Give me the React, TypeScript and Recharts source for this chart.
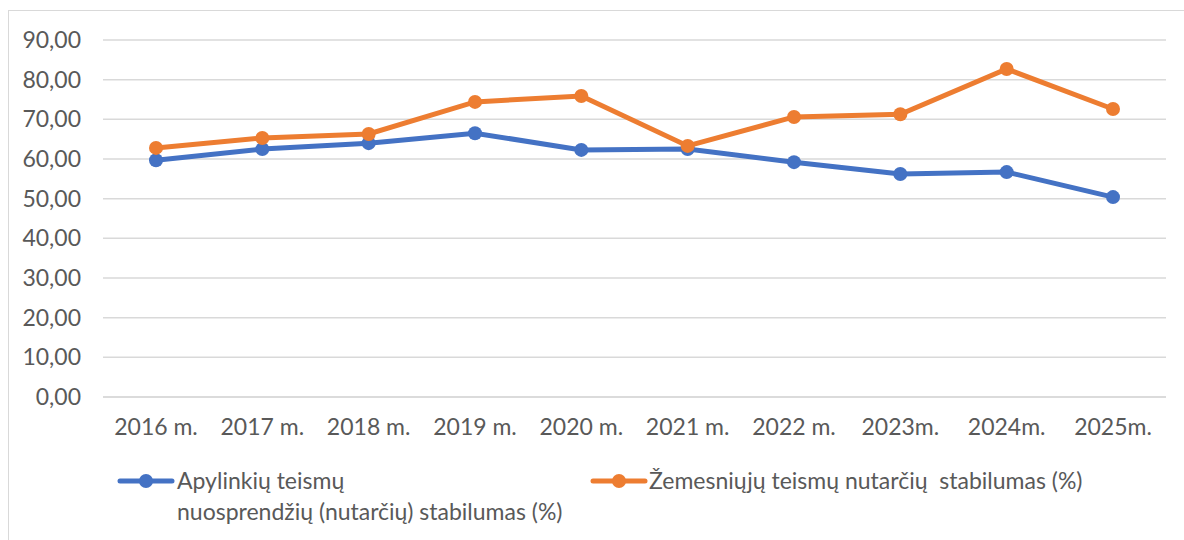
import { CartesianGrid, Line, LineChart, XAxis, YAxis } from "recharts";

const years = [
  "2016 m.",
  "2017 m.",
  "2018 m.",
  "2019 m.",
  "2020 m.",
  "2021 m.",
  "2022 m.",
  "2023m.",
  "2024m.",
  "2025m.",
];
const districtCourts = [59.7, 62.5, 64.0, 66.5, 62.3, 62.5, 59.2, 56.2, 56.7, 50.4];
const lowerCourts = [62.8, 65.3, 66.3, 74.4, 75.9, 63.3, 70.6, 71.3, 82.7, 72.6];
const yTicks = [0, 10, 20, 30, 40, 50, 60, 70, 80, 90];

const BLUE = "#4472C4";
const ORANGE = "#ED7D31";
const TEXT = "#595959";
const FONT = "Lato, 'Open Sans', sans-serif";
const FONT_SIZE = 23;

const data = years.map((year, i) => ({
  year,
  district: districtCourts[i],
  lower: lowerCourts[i],
}));

const fmt = (v: number) => v.toFixed(2).replace(".", ",");

function LegendMarker({ color }: { color: string }) {
  return (
    <svg width={58} height={16} style={{ display: "block" }}>
      <line x1={3} y1={8} x2={55} y2={8} stroke={color} strokeWidth={5} strokeLinecap="round" />
      <circle cx={29} cy={8} r={7} fill={color} />
    </svg>
  );
}

// ChartLegend mimics the two-column legend under the plot.
function ChartLegend() {
  const text = {
    color: TEXT,
    fontFamily: FONT,
    fontSize: FONT_SIZE,
    lineHeight: "31px",
  };
  return (
    <div style={{ position: "absolute", left: 0, top: 465, width: 1184, height: 70 }}>
      <div style={{ position: "absolute", left: 117, top: 8 }}>
        <LegendMarker color={BLUE} />
      </div>
      <div style={{ position: "absolute", left: 177, top: 0, ...text }}>
        Apylinkių teismų
        <br />
        nuosprendžių (nutarčių) stabilumas (%)
      </div>
      <div style={{ position: "absolute", left: 590, top: 8 }}>
        <LegendMarker color={ORANGE} />
      </div>
      <div style={{ position: "absolute", left: 649, top: 0, ...text, whiteSpace: "pre" }}>
        Žemesniųjų teismų nutarčių  stabilumas (%)
      </div>
    </div>
  );
}

export default function App() {
  return (
    <div
      style={{
        position: "absolute",
        left: 0,
        top: 0,
        width: 1184,
        height: 540,
        background: "#fff",
        overflow: "hidden",
      }}
    >
      <div
        style={{
          position: "absolute",
          left: 8,
          top: 10,
          right: 0,
          bottom: 0,
          borderTop: "1px solid #d9d9d9",
          borderLeft: "1px solid #d9d9d9",
        }}
      />
      <LineChart
        width={1184}
        height={540}
        data={data}
        margin={{ top: 40, right: 18, bottom: 113, left: 0 }}
        style={{ position: "absolute", left: 0, top: 0 }}
      >
        <CartesianGrid vertical={false} stroke="#d9d9d9" strokeWidth={1.5} />
        <XAxis
          dataKey="year"
          height={30}
          padding={{ left: 53, right: 53 }}
          axisLine={{ stroke: "#d9d9d9", strokeWidth: 1.5 }}
          tickLine={false}
          tickSize={0}
          tickMargin={22}
          interval={0}
          tick={{ fill: TEXT, fontFamily: FONT, fontSize: FONT_SIZE }}
        />
        <YAxis
          width={103}
          domain={[0, 90]}
          ticks={yTicks}
          tickFormatter={fmt}
          axisLine={false}
          tickLine={false}
          tickSize={0}
          tickMargin={22}
          tick={{ fill: TEXT, fontFamily: FONT, fontSize: FONT_SIZE }}
        />
        <Line
          dataKey="district"
          name="Apylinkių teismų nuosprendžių (nutarčių) stabilumas (%)"
          stroke={BLUE}
          strokeWidth={5}
          dot={{ r: 7, fill: BLUE, stroke: "none" }}
          isAnimationActive={false}
        />
        <Line
          dataKey="lower"
          name="Žemesniųjų teismų nutarčių  stabilumas (%)"
          stroke={ORANGE}
          strokeWidth={5}
          dot={{ r: 7, fill: ORANGE, stroke: "none" }}
          isAnimationActive={false}
        />
      </LineChart>
      <ChartLegend />
    </div>
  );
}
